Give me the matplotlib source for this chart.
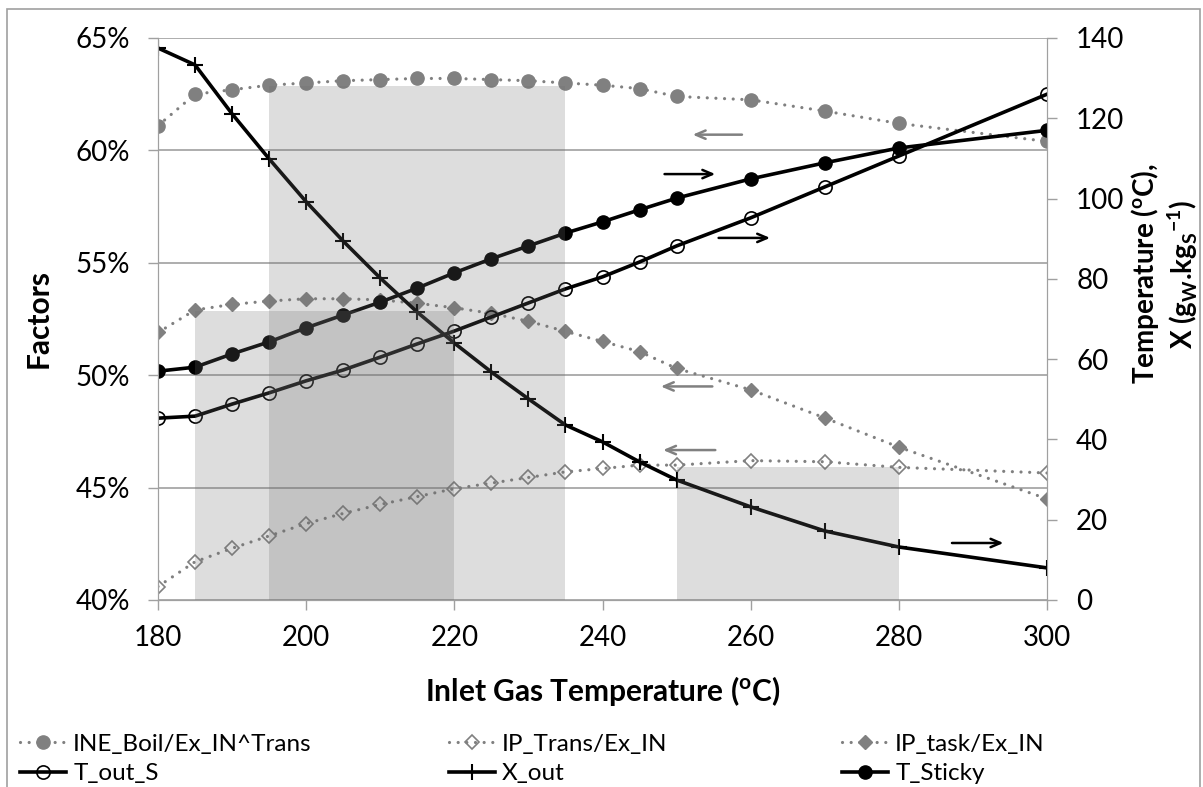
import numpy as np
import matplotlib
matplotlib.use("Agg")
import matplotlib.pyplot as plt
from matplotlib.ticker import PercentFormatter
from matplotlib.patches import Rectangle

plt.rcParams['font.family'] = ['Lato', 'DejaVu Sans']
plt.rcParams['mathtext.fontset'] = 'custom'
plt.rcParams['mathtext.rm'] = 'Lato'
plt.rcParams['mathtext.bf'] = 'Lato:bold'

# inlet gas temperature (degC)
temp_in = [180, 185, 190, 195, 200, 205, 210, 215, 220, 225, 230, 235,
           240, 245, 250, 260, 270, 280, 300]

# left axis (fraction)
ine_boil = [61.1, 62.5, 62.7, 62.9, 63.0, 63.1, 63.15, 63.2, 63.2, 63.15, 63.1, 63.0,
            62.9, 62.75, 62.4, 62.25, 61.75, 61.2, 60.4]
ip_trans = [40.6, 41.7, 42.3, 42.85, 43.4, 43.85, 44.25, 44.6, 44.95, 45.2, 45.45, 45.7,
            45.85, 46.0, 46.0, 46.2, 46.15, 45.9, 45.65]
ip_task = [51.9, 52.9, 53.15, 53.3, 53.4, 53.4, 53.35, 53.2, 53.0, 52.75, 52.4, 51.95,
           51.5, 51.05, 50.3, 49.35, 48.1, 46.8, 44.5]

# right axis (degC / g_W kg_S^-1)
t_out_s = [45.3, 45.8, 48.8, 51.6, 54.6, 57.3, 60.5, 63.8, 67.0, 70.5, 74.0, 77.5,
           80.5, 84.2, 88.2, 95.2, 102.9, 110.6, 126.0]
x_out = [137.5, 133.3, 121.1, 109.9, 99.2, 89.4, 80.2, 71.7, 64.0, 56.8, 50.1, 43.6,
         39.4, 34.4, 29.9, 23.2, 17.2, 13.2, 8.0]
t_sticky = [57.0, 58.0, 61.3, 64.3, 67.8, 71.0, 74.2, 77.7, 81.5, 85.0, 88.2, 91.4,
            94.2, 97.2, 100.1, 104.9, 108.9, 112.6, 117.0]

# shaded temperature bands (start, end, top in %)
band_start = [195, 185, 250]
band_end = [235, 220, 280]
band_top = [62.85, 52.85, 45.9]

fig = plt.figure(figsize=(12.03, 7.87), dpi=100)
ax = fig.add_axes([158 / 1203, 1 - 600 / 787, 889 / 1203, 562 / 787])
ax2 = ax.twinx()

grey = '#808080'
dot = (0, (0.01, 2.7))

ax.plot(temp_in, ine_boil, color=grey, lw=2.3, ls=dot, dash_capstyle='round',
        marker='o', ms=9.5, mfc=grey, mec=grey, label='INE_Boil/Ex_IN^Trans')
ax.plot(temp_in, ip_trans, color=grey, lw=2.3, ls=dot, dash_capstyle='round',
        marker='D', ms=7.5, mfc='none', mec=grey, mew=1.2, label='IP_Trans/Ex_IN')
ax.plot(temp_in, ip_task, color=grey, lw=2.3, ls=dot, dash_capstyle='round',
        marker='D', ms=7, mfc=grey, mec=grey, label='IP_task/Ex_IN')

ax2.plot(temp_in, t_out_s, color='black', lw=2.6, marker='o', ms=9.5, mfc='none',
         mec='black', mew=1.2, label='T_out_S')
ax2.plot(temp_in, x_out, color='black', lw=2.6, marker='+', ms=11, mew=1.5,
         label='X_out')
ax2.plot(temp_in, t_sticky, color='black', lw=2.6, marker='o', ms=9.5, mfc='black',
         mec='black', label='T_Sticky')

# translucent bands drawn over the lines, in percent units of the left axis
for x0, x1, top in zip(band_start, band_end, band_top):
    ax2.add_patch(Rectangle((x0, 0), x1 - x0, (top - 40) / 25 * 140,
                            facecolor=(0.43, 0.43, 0.43), alpha=0.233, lw=0, zorder=5))

# direction arrows
def arrow(axis, x0, x1, y, color):
    axis.annotate('', xy=(x1, y), xytext=(x0, y),
                  arrowprops=dict(arrowstyle='->,head_length=0.7,head_width=0.3',
                                  color=color, lw=1.8), zorder=6)

arrow(ax, 259.2, 251.8, 60.7, grey)
arrow(ax, 255.2, 247.5, 49.5, grey)
arrow(ax, 255.6, 247.8, 46.67, grey)
arrow(ax2, 248.0, 255.6, 106.1, 'black')
arrow(ax2, 255.3, 263.0, 90.2, 'black')
arrow(ax2, 286.8, 294.5, 14.2, 'black')

ax.set_xlim(180, 300)
ax.set_ylim(40, 65)
ax2.set_ylim(0, 140)
ax.set_xticks(np.arange(180, 301, 20))
ax.set_yticks(np.arange(40, 66, 5))
ax2.set_yticks(np.arange(0, 141, 20))
ax.yaxis.set_major_formatter(PercentFormatter(decimals=0))

spine_c = '#a0a0a0'
ax.grid(axis='y', color=spine_c, lw=1.2)
ax.set_axisbelow(True)
for a in (ax, ax2):
    for s in a.spines.values():
        s.set_color(spine_c)
    a.spines['top'].set_visible(False)
    a.tick_params(colors=spine_c, labelcolor='black', length=7, width=1,
                  labelsize=20)
ax.tick_params(axis='y', pad=13)
ax.tick_params(axis='x', pad=11)
ax2.tick_params(axis='y', pad=14)

ax.set_xlabel(r'Inlet Gas Temperature ($\mathbf{^{o}}$C)', fontsize=21.5, fontweight='bold')
ax.xaxis.set_label_coords(0.5, -0.132)
ax.set_ylabel('Factors', fontsize=21.5, fontweight='bold')
ax.yaxis.set_label_coords(-0.119, 0.5)
ax2.set_ylabel('Temperature ($\\mathbf{^{o}}$C),\n'
               'X (g$_{\\mathbf{W}}$.kg$_{\\mathbf{S}}$$^{\\mathbf{-1}}$)',
               fontsize=20, fontweight='bold', linespacing=1.15)
ax2.yaxis.set_label_coords(1.092, 0.58)

h1, l1 = ax.get_legend_handles_labels()
h2, l2 = ax2.get_legend_handles_labels()
col_x = [10, 439, 832]
for i, cx in enumerate(col_x):
    fig.legend([h1[i], h2[i]], [l1[i], l2[i]], loc='upper left',
               bbox_to_anchor=(cx / 1203, 1 - 724 / 787), frameon=False,
               fontsize=17.5, handlelength=1.9, handletextpad=0.3,
               labelspacing=0.35, borderaxespad=0)

fig.patches.append(Rectangle((7 / 1203, -0.05), 1193 / 1203, 1.05 - 9 / 787,
                             transform=fig.transFigure, fill=False,
                             edgecolor=spine_c, lw=1.2))

fig.savefig('out.png', dpi=100)
